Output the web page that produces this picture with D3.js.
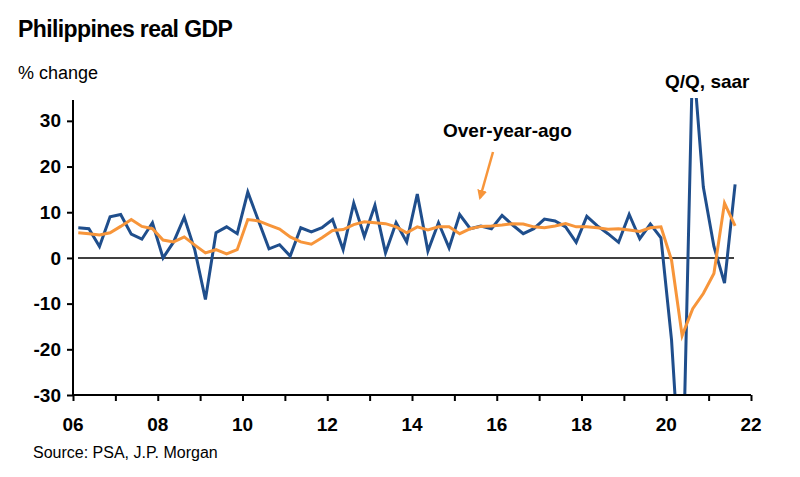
<!DOCTYPE html>
<html><head><meta charset="utf-8">
<script src="https://cdn.jsdelivr.net/npm/d3@7"></script>
<style>
body{margin:0;background:#fff;font-family:"Liberation Sans",Arial,sans-serif;}
</style></head>
<body><svg id="c" width="800" height="477"></svg>
<script>
// quarterly, 2006Q1 .. 2021Q3
var startYear = 2006;
var qoqSaar = [6.6,6.4,2.5,9,9.5,5.2,4.1,7.7,0,3.5,8.9,1.7,-9.1,5.5,6.8,5.3,
  14.4,8.2,2,2.9,0.4,6.6,5.7,6.6,8.4,1.8,12,4.7,11.5,1.1,7.7,3.5,
  14,1.5,7.7,2.2,9.5,6.4,7,6.4,9.3,7.2,5.3,6.4,8.5,8.1,6.8,3.4,
  9.1,7,5.3,3.4,9.5,4.2,7.4,4.4,-18,-55,45,15.5,2.5,-5.5,16.1];
var overYearAgo = [5.5,5.3,5,5.5,6.9,8.4,6.9,6.4,3.9,3.5,4.6,2.8,1.1,1.8,0.9,1.8,
  8.4,8.1,7.2,6.3,4.6,3.5,3,4.4,6,6.2,7.3,7.9,7.7,7.5,6.8,5.5,
  6.8,6.1,6.8,6.8,5.3,6.4,6.9,7,7.2,7.5,7.4,6.8,6.6,7,7.5,6.8,
  6.8,6.6,6.3,6.4,6.1,5.8,6.6,6.8,-0.5,-17,-11.1,-7.8,-3.4,12,7];
var yTicks = [-30,-20,-10,0,10,20,30];
var xLabels = ["06","08","10","12","14","16","18","20","22"];

var svg = d3.select("#c");
var x = d3.scaleLinear().domain([2006, 2022]).range([73, 751]);
var y = d3.scaleLinear().domain([-30, 35]).range([395, 98]);
function t(i){ return startYear + (i + 0.5) / 4; }

svg.append("defs").append("clipPath").attr("id","clip")
  .append("rect").attr("x",73).attr("y",98).attr("width",700).attr("height",297);

svg.append("text").attr("x",18).attr("y",37).attr("font-size",23).attr("font-weight","bold")
  .attr("letter-spacing",-0.6).text("Philippines real GDP");
svg.append("text").attr("x",18).attr("y",79).attr("font-size",18).text("% change");

// zero line
svg.append("line").attr("x1",78).attr("x2",734).attr("y1",y(0)).attr("y2",y(0))
  .attr("stroke","#000").attr("stroke-width",1.5);

var line = d3.line().x(function(d,i){ return x(t(i)); }).y(function(d){ return y(d); });
var g = svg.append("g").attr("clip-path","url(#clip)");
g.append("path").datum(qoqSaar).attr("d",line).attr("fill","none")
  .attr("stroke","#1f4e8c").attr("stroke-width",3);
g.append("path").datum(overYearAgo).attr("d",line).attr("fill","none")
  .attr("stroke","#f7953a").attr("stroke-width",3);

// y axis
var ya = svg.append("g").attr("transform","translate(73,0)")
  .call(d3.axisLeft(y).tickValues(yTicks).tickSize(6).tickPadding(6).tickFormat(function(d){ return String(d); }));
ya.select(".domain").attr("d","M0,100V395").attr("stroke","#000").attr("stroke-width",2);
ya.selectAll("line").attr("stroke-width",2);
ya.selectAll("text").attr("font-size",19).attr("font-weight","bold")
  .attr("font-family","Liberation Sans, Arial").attr("fill","#000");

// x axis
var xa = svg.append("g").attr("transform","translate(0,395)")
  .call(d3.axisBottom(x).tickValues(d3.range(2006,2023)).tickSize(6).tickFormat(""));
xa.select(".domain").attr("d","M73,0H751").attr("stroke","#000").attr("stroke-width",2);
xa.selectAll("line").attr("stroke-width",2);
svg.selectAll(".xl").data(xLabels).enter().append("text")
  .attr("x",function(d,i){ return x(2006 + i*2); }).attr("y",431)
  .attr("text-anchor","middle").attr("font-size",19).attr("font-weight","bold").text(function(d){return d;});

svg.append("text").attr("x",665).attr("y",88).attr("font-size",19).attr("font-weight","bold").text("Q/Q, saar");
svg.append("text").attr("x",443).attr("y",137).attr("font-size",19).attr("font-weight","bold").text("Over-year-ago");
svg.append("defs").append("marker").attr("id","ah").attr("viewBox","0 0 10 10").attr("refX",8).attr("refY",5)
  .attr("markerWidth",4).attr("markerHeight",5).attr("orient","auto")
  .append("path").attr("d","M0,0L10,5L0,10z").attr("fill","#f7953a");
svg.append("line").attr("x1",493).attr("y1",152).attr("x2",480).attr("y2",198)
  .attr("stroke","#f7953a").attr("stroke-width",2.5).attr("marker-end","url(#ah)");

svg.append("text").attr("x",33).attr("y",458).attr("font-size",16).text("Source: PSA, J.P. Morgan");
</script></body></html>
